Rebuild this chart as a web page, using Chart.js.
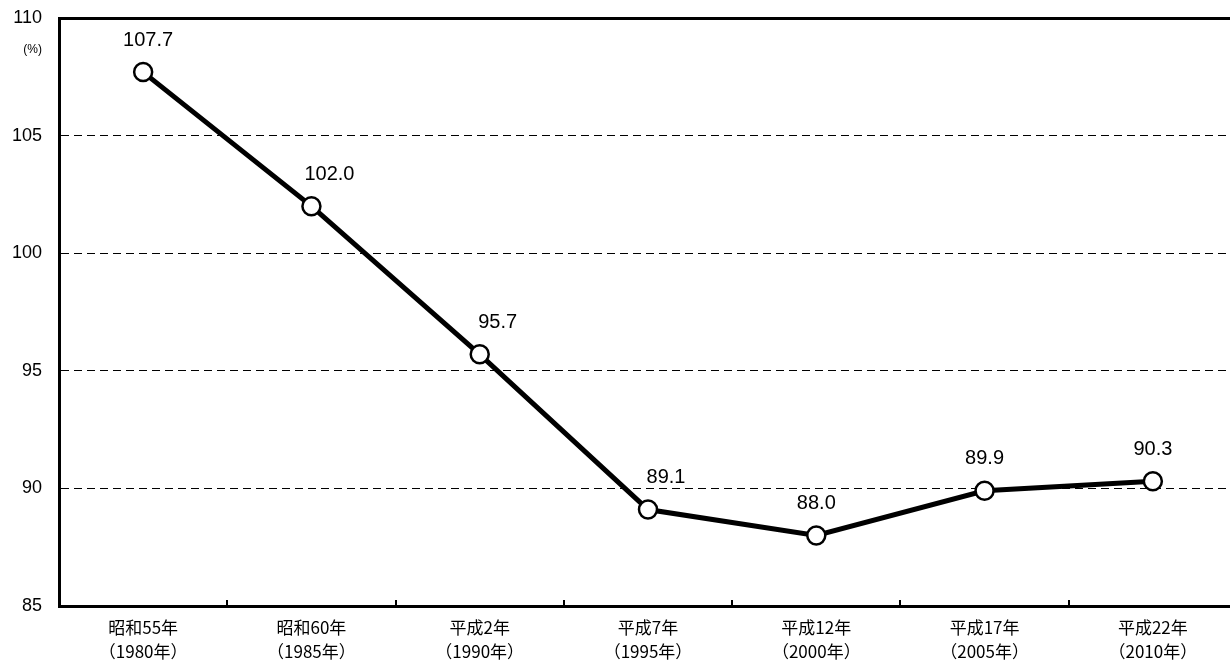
<!DOCTYPE html>
<html>
<head>
<meta charset="utf-8">
<script src="https://cdn.jsdelivr.net/npm/chart.js@4"></script>
<style>
  html, body { margin: 0; padding: 0; background: #fff; overflow: hidden; }
  #wrap { width: 1230px; height: 662px; overflow: hidden; }
  #chart { display: block; width: 1240px; height: 662px; }
</style>
</head>
<body>
<div id="wrap"><canvas id="chart" width="1240" height="662"></canvas></div>
<script>
// データ
const categories = [
  ['昭和55年', '（1980年）'],
  ['昭和60年', '（1985年）'],
  ['平成2年', '（1990年）'],
  ['平成7年', '（1995年）'],
  ['平成12年', '（2000年）'],
  ['平成17年', '（2005年）'],
  ['平成22年', '（2010年）']
];
const values = [107.7, 102.0, 95.7, 89.1, 88.0, 89.9, 90.3];
const yTicks = [85, 90, 95, 100, 105, 110];
const unitLabel = '(%)';

// ラベルのずらし量（線と重ならないように）
const labelDx = [5, 18, 18, 18, 0, 0, 0];

const numFont = '"Liberation Sans", Arial, sans-serif';
const jpFont = '"Noto Sans CJK JP", sans-serif';

const extras = {
  id: 'extras',
  afterDatasetsDraw(chart) {
    const ctx = chart.ctx;
    const x = chart.scales.x;
    const y = chart.scales.y;
    const area = chart.chartArea;

    // 目盛り（区切り）
    ctx.save();
    ctx.strokeStyle = '#000';
    ctx.lineWidth = 2;
    for (let i = 1; i < categories.length; i++) {
      const px = Math.round((x.getPixelForValue(i - 1) + x.getPixelForValue(i)) / 2);
      ctx.beginPath();
      ctx.moveTo(px, area.bottom);
      ctx.lineTo(px, area.bottom - 6);
      ctx.stroke();
    }

    // 値ラベル
    ctx.fillStyle = '#000';
    ctx.font = '20px ' + numFont;
    ctx.textAlign = 'center';
    ctx.textBaseline = 'middle';
    const meta = chart.getDatasetMeta(0);
    meta.data.forEach((pt, i) => {
      ctx.fillText(values[i].toFixed(1), pt.x + labelDx[i], pt.y - 32);
    });

    // 単位
    ctx.font = '12px ' + numFont;
    ctx.textAlign = 'right';
    ctx.fillText(unitLabel, 42, y.getPixelForValue(110) + 32);
    ctx.restore();
  }
};

new Chart(document.getElementById('chart'), {
  type: 'line',
  data: {
    labels: categories,
    datasets: [{
      data: values,
      borderColor: '#000',
      borderWidth: 5,
      tension: 0,
      pointRadius: 9,
      pointBackgroundColor: '#fff',
      pointBorderColor: '#000',
      pointBorderWidth: 2.5,
      clip: false
    }]
  },
  options: {
    responsive: false,
    devicePixelRatio: 1,
    animation: false,
    layout: { autoPadding: false, padding: { top: 18, right: 3, left: 0, bottom: 0 } },
    plugins: { legend: { display: false }, tooltip: { enabled: false } },
    scales: {
      x: {
        type: 'category',
        offset: true,
        grid: { display: false },
        border: { display: true, color: '#000', width: 3 },
        ticks: {
          color: '#000',
          font: { family: jpFont, size: 17, lineHeight: 1.4 },
          padding: 2,
          maxRotation: 0,
          autoSkip: false
        },
        afterFit: s => { s.height = 56; s.paddingLeft = 0; s.paddingRight = 0; }
      },
      y: {
        min: yTicks[0],
        max: yTicks[yTicks.length - 1],
        afterBuildTicks: s => { s.ticks = yTicks.map(v => ({ value: v })); },
        grid: {
          drawTicks: false,
          color: c => c.tick && c.tick.value === 85 ? 'rgba(0,0,0,0)' : '#000',
          lineWidth: c => c.tick && c.tick.value === 110 ? 3 : 1
        },
        border: {
          display: true,
          color: '#000',
          width: 3,
          dash: c => c.tick && c.tick.value === 110 ? [] : [8, 5]
        },
        ticks: {
          color: '#000',
          font: { family: numFont, size: 18 },
          padding: 17
        },
        afterFit: s => { s.width = 59; s.paddingTop = 0; s.paddingBottom = 0; }
      }
    }
  },
  plugins: [extras]
});
</script>
</body>
</html>
